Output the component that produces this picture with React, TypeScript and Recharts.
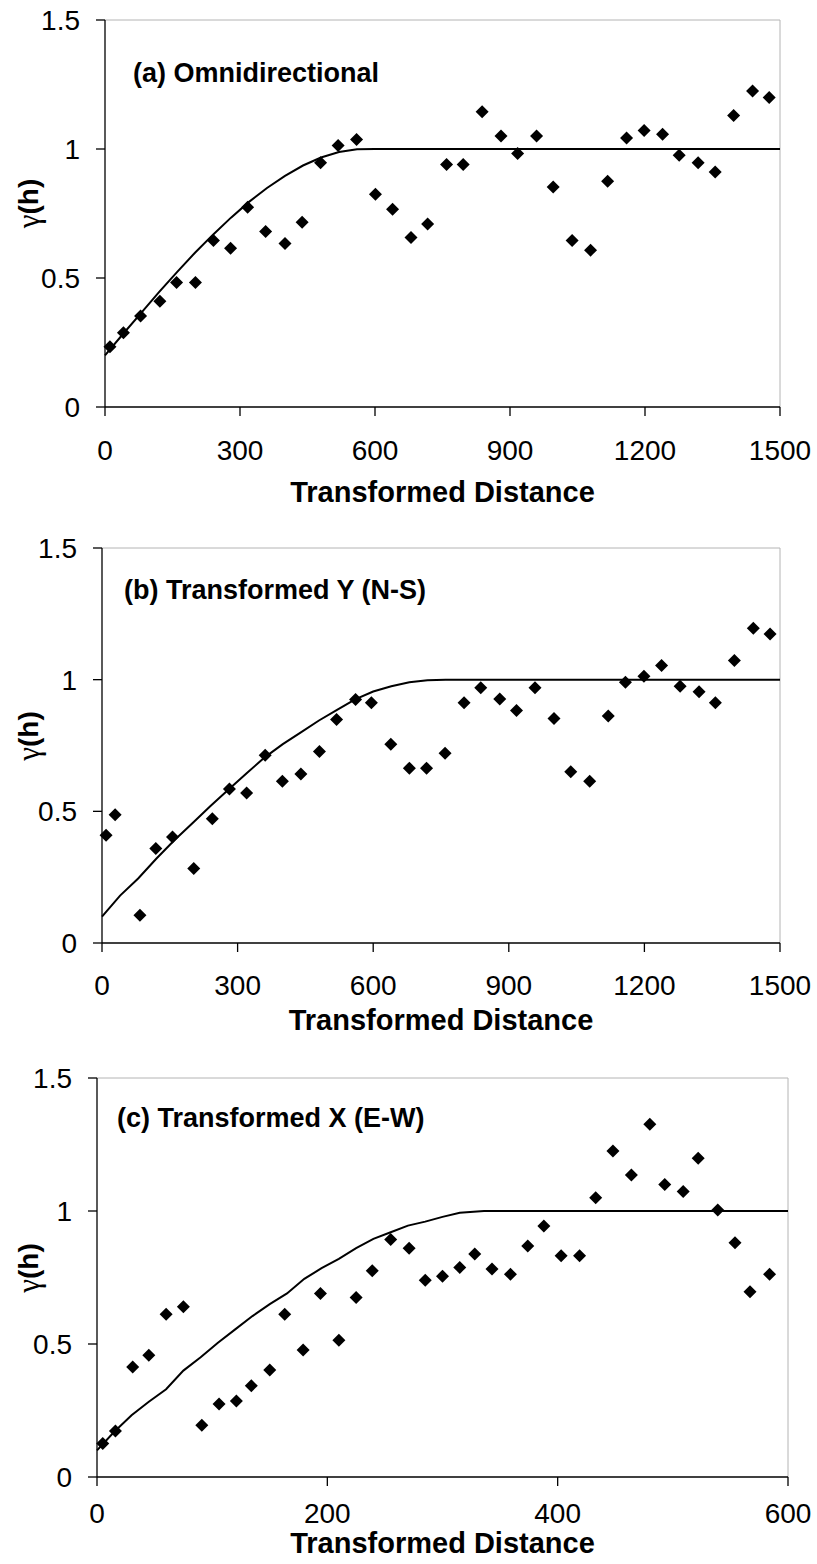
import React from 'react';
import { ComposedChart, Line, Scatter, XAxis, YAxis, ReferenceLine, Label } from 'recharts';

// (a) omnidirectional
const omniLag = [11, 41, 79, 122, 159, 201, 241, 279, 317, 357, 400, 438, 479, 518, 559, 601, 639, 680, 717, 759, 796, 838, 880, 917, 959, 996, 1038, 1079, 1117, 1159, 1198, 1239, 1276, 1318, 1356, 1397, 1439, 1476];
const omniGamma = [0.234, 0.288, 0.353, 0.41, 0.483, 0.483, 0.645, 0.615, 0.774, 0.68, 0.634, 0.716, 0.947, 1.014, 1.037, 0.825, 0.766, 0.657, 0.709, 0.94, 0.94, 1.144, 1.05, 0.983, 1.05, 0.853, 0.645, 0.608, 0.875, 1.043, 1.072, 1.057, 0.976, 0.947, 0.911, 1.13, 1.225, 1.2];
const omniModelLag = [0, 40, 80, 120, 160, 200, 240, 280, 320, 360, 400, 440, 480, 520, 560, 600, 1500];
const omniModelGamma = [0.2, 0.283, 0.364, 0.445, 0.523, 0.598, 0.668, 0.734, 0.795, 0.849, 0.896, 0.936, 0.967, 0.988, 0.999, 1, 1];

// (b) transformed Y (N-S)
const nsLag = [9, 29, 84, 119, 156, 203, 244, 282, 320, 361, 399, 440, 481, 519, 561, 596, 639, 680, 718, 759, 801, 838, 880, 917, 958, 1000, 1037, 1079, 1120, 1158, 1199, 1238, 1279, 1321, 1357, 1399, 1441, 1478];
const nsGamma = [0.409, 0.487, 0.105, 0.359, 0.403, 0.283, 0.472, 0.585, 0.57, 0.713, 0.614, 0.642, 0.727, 0.849, 0.925, 0.912, 0.755, 0.664, 0.664, 0.721, 0.912, 0.969, 0.927, 0.883, 0.969, 0.853, 0.65, 0.614, 0.862, 0.99, 1.013, 1.054, 0.975, 0.954, 0.912, 1.073, 1.195, 1.173];
const nsModelLag = [0, 40, 80, 120, 160, 200, 240, 280, 320, 360, 400, 440, 480, 520, 560, 600, 640, 680, 720, 760, 1500];
const nsModelGamma = [0.1, 0.18, 0.245, 0.32, 0.39, 0.455, 0.52, 0.583, 0.645, 0.705, 0.755, 0.8, 0.845, 0.885, 0.925, 0.955, 0.975, 0.99, 0.998, 1, 1];

// (c) transformed X (E-W)
const ewLag = [5, 16, 31, 45, 60, 75, 91, 106, 121, 134, 150, 163, 179, 194, 210, 225, 239, 255, 271, 285, 300, 315, 328, 343, 359, 374, 388, 403, 419, 433, 448, 464, 480, 493, 509, 522, 539, 554, 567, 584];
const ewGamma = [0.126, 0.173, 0.414, 0.458, 0.612, 0.64, 0.195, 0.274, 0.286, 0.343, 0.402, 0.612, 0.477, 0.69, 0.514, 0.675, 0.775, 0.893, 0.86, 0.74, 0.755, 0.788, 0.838, 0.782, 0.762, 0.868, 0.944, 0.832, 0.832, 1.05, 1.226, 1.135, 1.326, 1.1, 1.073, 1.198, 1.004, 0.881, 0.696, 0.762];
const ewModelLag = [0, 15, 30, 45, 60, 75, 90, 105, 120, 135, 150, 165, 180, 195, 210, 225, 240, 255, 270, 285, 300, 315, 336, 600];
const ewModelGamma = [0.1, 0.17, 0.232, 0.283, 0.33, 0.4, 0.45, 0.505, 0.555, 0.605, 0.65, 0.69, 0.745, 0.785, 0.82, 0.86, 0.895, 0.92, 0.945, 0.96, 0.978, 0.993, 1, 1];

const yTicks = [0, 0.5, 1, 1.5];
const longTicks = [0, 300, 600, 900, 1200, 1500];
const shortTicks = [0, 200, 400, 600];

const pairs = (xs: number[], ys: number[]) => xs.map((x, i) => ({ x, y: ys[i] }));

const FONT = '"Liberation Sans", Arial, sans-serif';

const Diamond = (props: any) => {
  const { cx, cy } = props;
  if (cx == null || cy == null) return null;
  const r = 6.5;
  return <polygon points={`${cx},${cy - r} ${cx + r},${cy} ${cx},${cy + r} ${cx - r},${cy}`} fill="#000" />;
};

const GammaLabel = ({ cx, cy }: { cx: number; cy: number }) => (
  <text
    x={cx}
    y={cy}
    transform={`rotate(-90 ${cx} ${cy})`}
    textAnchor="middle"
    dominantBaseline="central"
    fontSize={28}
    fill="#000"
    fontFamily={FONT}
  >
    <tspan fontFamily='"Liberation Serif", serif' fontSize={31}>γ</tspan>
    <tspan fontWeight="bold">(h)</tspan>
  </text>
);

type PanelProps = {
  top: number;
  height: number;
  margin: { top: number; right: number; bottom: number; left: number };
  xMax: number;
  xTicks: number[];
  xAxisHeight: number;
  tickGap: number;
  titleOffset: number;
  gammaCy: number;
  points: { x: number; y: number }[];
  model: { x: number; y: number }[];
  caption: string;
  captionLeft: number;
  captionTop: number;
};

function Panel(p: PanelProps) {
  return (
    <div style={{ position: 'absolute', left: 0, top: p.top, width: 817, height: p.height }}>
      <ComposedChart width={817} height={p.height} margin={p.margin}>
        <ReferenceLine y={1.5} stroke="#b4b4b4" strokeWidth={1} ifOverflow="extendDomain" />
        <ReferenceLine x={p.xMax} stroke="#b4b4b4" strokeWidth={1} />
        <XAxis
          type="number"
          dataKey="x"
          domain={[0, p.xMax]}
          ticks={p.xTicks}
          interval={0}
          height={p.xAxisHeight}
          tickSize={9}
          tickMargin={p.tickGap}
          stroke="#000"
          strokeWidth={1.3}
          tick={{ fill: '#000', fontSize: 28, fontFamily: FONT }}
        >
          <Label
            value="Transformed Distance"
            position="insideBottom"
            offset={p.titleOffset}
            style={{ fill: '#000', fontSize: 29, fontWeight: 'bold', fontFamily: FONT }}
          />
        </XAxis>
        <YAxis
          type="number"
          dataKey="y"
          domain={[0, 1.5]}
          ticks={yTicks}
          interval={0}
          width={80}
          tickSize={9}
          tickMargin={16}
          stroke="#000"
          strokeWidth={1.3}
          tick={{ fill: '#000', fontSize: 28, fontFamily: FONT }}
          label={{ content: () => <GammaLabel cx={27.5} cy={p.gammaCy} /> }}
        />
        <Line
          data={p.model}
          dataKey="y"
          type="linear"
          stroke="#000"
          strokeWidth={2}
          dot={false}
          activeDot={false}
          isAnimationActive={false}
        />
        <Scatter data={p.points} dataKey="y" shape={Diamond} isAnimationActive={false} />
      </ComposedChart>
      <div
        style={{
          position: 'absolute',
          left: p.captionLeft,
          top: p.captionTop,
          fontFamily: FONT,
          fontWeight: 'bold',
          fontSize: 27,
          lineHeight: 1,
          whiteSpace: 'nowrap',
          color: '#000',
        }}
      >
        {p.caption}
      </div>
    </div>
  );
}

export default function App() {
  return (
    <div style={{ position: 'absolute', left: 0, top: 0, width: 817, height: 1564, background: '#fff' }}>
      <Panel
        top={0}
        height={520}
        margin={{ top: 20, right: 37, bottom: 13, left: 25 }}
        xMax={1500}
        xTicks={longTicks}
        xAxisHeight={100}
        tickGap={24}
        titleOffset={5}
        gammaCy={203.5}
        points={pairs(omniLag, omniGamma)}
        model={pairs(omniModelLag, omniModelGamma)}
        caption="(a) Omnidirectional"
        captionLeft={133}
        captionTop={60}
      />
      <Panel
        top={520}
        height={520}
        margin={{ top: 28, right: 37, bottom: 7, left: 22 }}
        xMax={1500}
        xTicks={longTicks}
        xAxisHeight={90}
        tickGap={23}
        titleOffset={3}
        gammaCy={216}
        points={pairs(nsLag, nsGamma)}
        model={pairs(nsModelLag, nsModelGamma)}
        caption="(b) Transformed Y (N-S)"
        captionLeft={124}
        captionTop={57}
      />
      <Panel
        top={1040}
        height={524}
        margin={{ top: 38, right: 29, bottom: 7, left: 17 }}
        xMax={600}
        xTicks={shortTicks}
        xAxisHeight={80}
        tickGap={17}
        titleOffset={4}
        gammaCy={228}
        points={pairs(ewLag, ewGamma)}
        model={pairs(ewModelLag, ewModelGamma)}
        caption="(c) Transformed X (E-W)"
        captionLeft={117}
        captionTop={65}
      />
    </div>
  );
}
